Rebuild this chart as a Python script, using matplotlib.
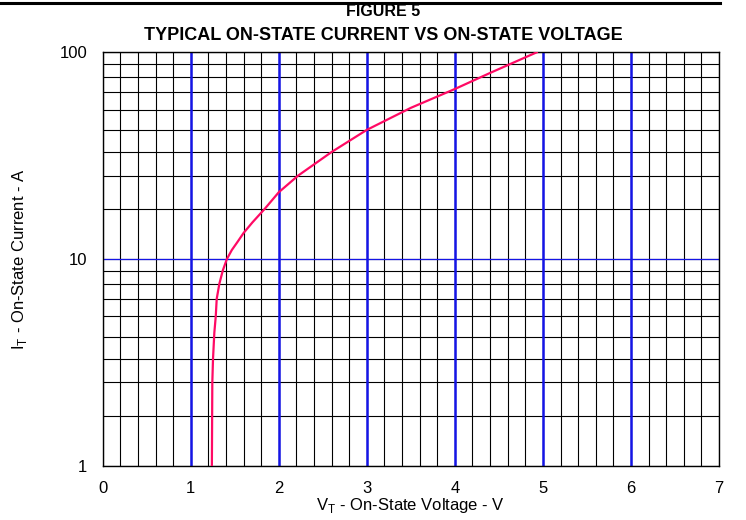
import numpy as np
import matplotlib
matplotlib.use("Agg")
import matplotlib.pyplot as plt
from matplotlib.lines import Line2D
from matplotlib.ticker import FixedLocator, NullFormatter

# ---- data ----
voltage = [1.24, 1.243, 1.245, 1.253, 1.268, 1.284, 1.295, 1.325, 1.364, 1.41,
           1.466, 1.53, 1.60, 1.70, 1.84, 2.0, 2.22, 2.60, 3.0, 3.5, 4.0, 4.40, 4.93]
current = [1, 2, 3, 4, 5.2, 6, 7, 8, 9, 10,
           11.8, 13.4, 15.2, 17.3, 20, 25, 30, 40, 50, 61, 72, 83, 100]
x_ticks = [0, 1, 2, 3, 4, 5, 6, 7]
y_ticks = [1, 10, 100]
y_tick_labels = ["1", "10", "100"]

# grid paper spacing within one decade (fraction of decade for 1..10)
decade_frac = [0.0, 0.243, 0.404, 0.518, 0.625, 0.723, 0.808, 0.881, 0.945, 1.0]
mant = np.arange(1, 11)


def fwd(y):
    y = np.clip(np.asarray(y, dtype=float), 1e-6, None)
    d = np.floor(np.log10(y) + 1e-12)
    m = y / 10.0 ** d
    return d + np.interp(m, mant, decade_frac)


def inv(t):
    t = np.asarray(t, dtype=float)
    d = np.floor(t)
    f = t - d
    return np.interp(f, decade_frac, mant) * 10.0 ** d


plt.rcParams['font.family'] = ['Liberation Sans', 'DejaVu Sans']

fig = plt.figure(figsize=(7.46, 5.20), dpi=100)
ax = fig.add_axes([102.7 / 746, 1 - 466 / 520, (719 - 102.7) / 746, (466 - 52.3) / 520])

ax.set_yscale('function', functions=(fwd, inv))
ax.set_xlim(0, 7)
ax.set_ylim(1, 100)

ax.xaxis.set_major_locator(FixedLocator(x_ticks))
ax.xaxis.set_minor_locator(FixedLocator(np.arange(0, 7.001, 0.2)))
ax.yaxis.set_major_locator(FixedLocator(y_ticks))
minor_y = [m * 10 ** d for d in (0, 1) for m in range(2, 10)]
ax.yaxis.set_minor_locator(FixedLocator(minor_y))
ax.set_yticklabels(y_tick_labels)
ax.yaxis.set_minor_formatter(NullFormatter())

ax.grid(True, which='both', color='black', linewidth=0.8)
for v in range(1, 7):
    ax.axvline(v, color='#1414e6', linewidth=1.8, zorder=2)
ax.axhline(10, color='#1414e6', linewidth=0.9, zorder=2)

ax.plot(voltage, current, color='#ff0a64', linewidth=1.6, zorder=3,
        solid_joinstyle='round')

ax.tick_params(which='both', length=0)
ax.tick_params(axis='x', labelsize=12, pad=11)
ax.tick_params(axis='y', labelsize=12, pad=11)
for s in ax.spines.values():
    s.set_linewidth(1.0)
    s.set_color('black')

ax.set_xlabel(r"V$_\mathregular{T}$ - On-State Voltage - V", fontsize=12, labelpad=0)
ax.set_ylabel(r"I$_\mathregular{T}$ - On-State Current - A", fontsize=12, labelpad=22)

fig.text(383 / 746, 1 - 12 / 520, "FIGURE 5", ha='center', va='center',
         fontsize=11.5, fontweight='bold')
fig.text(383 / 746, 1 - 35.5 / 520, "TYPICAL ON-STATE CURRENT VS ON-STATE VOLTAGE",
         ha='center', va='center', fontsize=13, fontweight='bold')
fig.add_artist(Line2D([0, 720 / 746], [1 - 3 / 520] * 2, color='black',
                      linewidth=2.2, transform=fig.transFigure))

fig.savefig("out.png", dpi=100)
